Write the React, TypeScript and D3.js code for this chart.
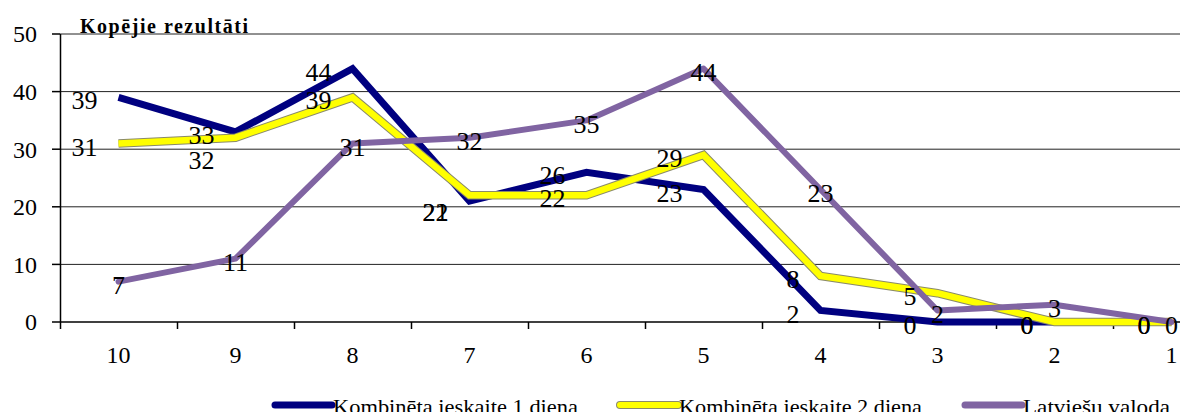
import React from "react";
import * as d3 from "d3";

const categories = ["10", "9", "8", "7", "6", "5", "4", "3", "2", "1"];
const day1 = [39, 33, 44, 21, 26, 23, 2, 0, 0, 0];
const day2 = [31, 32, 39, 22, 22, 29, 8, 5, 0, 0];
const latvian = [7, 11, 31, 32, 35, 44, 23, 2, 3, 0];
const yTicks = [0, 10, 20, 30, 40, 50];
const seriesNames = ["Kombinēta ieskaite 1 diena", "Kombinēta ieskaite 2 diena", "Latviešu valoda"];
const title = "Kopējie rezultāti";

const W = 1180;
const H = 412;
const LEFT = 60;
const BAND = 117;
const Y0 = 322;
const Y50 = 34;
const FONT = "Liberation Serif, Times New Roman, DejaVu Serif, serif";

export default function App() {
  const x = d3.scaleBand<string>().domain(categories).range([LEFT, LEFT + BAND * categories.length]).padding(0);
  const y = d3.scaleLinear().domain([0, 50]).range([Y0, Y50]);
  const cx = (c: string) => (x(c) as number) + x.bandwidth() / 2;
  const line = d3
    .line<number>()
    .x((_, i) => cx(categories[i]))
    .y((d) => y(d));

  // label offset overrides (series index, point index) -> extra dy
  const extraDy: Record<string, number> = { "1-1": 19, "0-3": 8, "1-3": 14 };
  const ts = { fontFamily: FONT } as React.CSSProperties;

  const sideLabels = (vals: number[], s: number) =>
    vals.map((v, i) => (
      <text
        key={`l${s}-${i}`}
        x={cx(categories[i]) - 21}
        y={y(v) + 3 + (extraDy[`${s}-${i}`] || 0)}
        dy="0.35em"
        textAnchor="end"
        fontSize={26}
        style={ts}
        fill="#000"
      >
        {v}
      </text>
    ));

  const legendItems = [
    { x1: 275, x2: 332, tx: 333, tl: 245, color: "#000080", outline: false },
    { x1: 620, x2: 678, tx: 679, tl: 243, color: "#FFFF00", outline: true },
    { x1: 965, x2: 1022, tx: 1023, tl: 147, color: "#8064A2", outline: false },
  ];

  return (
    <svg
      width={W}
      height={H}
      style={{ position: "absolute", left: 0, top: 0, background: "#fff", fontFamily: FONT }}
    >
      <rect x={0} y={0} width={W} height={H} fill="#fff" />
      {/* gridlines */}
      {yTicks.filter((t) => t > 0).map((t) => (
        <line key={`g${t}`} x1={LEFT} x2={LEFT + BAND * 10} y1={y(t)} y2={y(t)} stroke="#222" strokeWidth={1} />
      ))}
      {/* y axis */}
      <line x1={LEFT + 0.5} x2={LEFT + 0.5} y1={Y50} y2={Y0} stroke="#000" strokeWidth={1.5} />
      {yTicks.map((t) => (
        <g key={`yt${t}`}>
          <line x1={LEFT - 8} x2={LEFT} y1={y(t)} y2={y(t)} stroke="#000" strokeWidth={1.5} />
          <text x={37} y={y(t)} dy="0.35em" textAnchor="end" fontSize={24} style={ts} fill="#000">
            {t}
          </text>
        </g>
      ))}
      {/* x axis */}
      <line x1={LEFT} x2={LEFT + BAND * 10} y1={Y0} y2={Y0} stroke="#000" strokeWidth={1.5} />
      {categories.map((c) => (
        <g key={`xt${c}`}>
          <line x1={(x(c) as number) + 0.5} x2={(x(c) as number) + 0.5} y1={Y0} y2={Y0 + 7} stroke="#000" strokeWidth={1.5} />
          <text x={cx(c)} y={355} dy="0.35em" textAnchor="middle" fontSize={24} style={ts} fill="#000">
            {c}
          </text>
        </g>
      ))}
      {/* title */}
      <text x={80} y={33} fontSize={20} fontWeight="bold" textLength={168} lengthAdjust="spacing" style={ts} fill="#000">
        {title}
      </text>
      {/* series */}
      <path d={line(day1) || ""} fill="none" stroke="#000080" strokeWidth={7} strokeLinejoin="miter" strokeMiterlimit={4} />
      <path d={line(day2) || ""} fill="none" stroke="#8a8a6a" strokeWidth={8.5} strokeLinejoin="miter" strokeMiterlimit={4} />
      <path d={line(day2) || ""} fill="none" stroke="#FFFF00" strokeWidth={6.5} strokeLinejoin="miter" strokeMiterlimit={4} />
      <path d={line(latvian) || ""} fill="none" stroke="#8064A2" strokeWidth={6} strokeLinejoin="round" strokeLinecap="round" />
      {/* labels */}
      {sideLabels(day1, 0)}
      {sideLabels(day2, 1)}
      {latvian.map((v, i) => (
        <text
          key={`lp${i}`}
          x={cx(categories[i])}
          y={y(v) + 3}
          dy="0.35em"
          textAnchor="middle"
          fontSize={26}
          style={ts}
          fill="#000"
        >
          {v}
        </text>
      ))}
      {/* legend */}
      {legendItems.map((it, i) => (
        <g key={`lg${i}`}>
          {it.outline && (
            <line x1={it.x1} x2={it.x2} y1={405} y2={405} stroke="#8a8a6a" strokeWidth={8} strokeLinecap="round" />
          )}
          <line
            x1={it.x1}
            x2={it.x2}
            y1={405}
            y2={405}
            stroke={it.color}
            strokeWidth={it.outline ? 6 : 7}
            strokeLinecap="round"
          />
          <text x={it.tx} y={414} fontSize={22} textLength={it.tl} lengthAdjust="spacingAndGlyphs" style={ts} fill="#000">
            {seriesNames[i]}
          </text>
        </g>
      ))}
    </svg>
  );
}
